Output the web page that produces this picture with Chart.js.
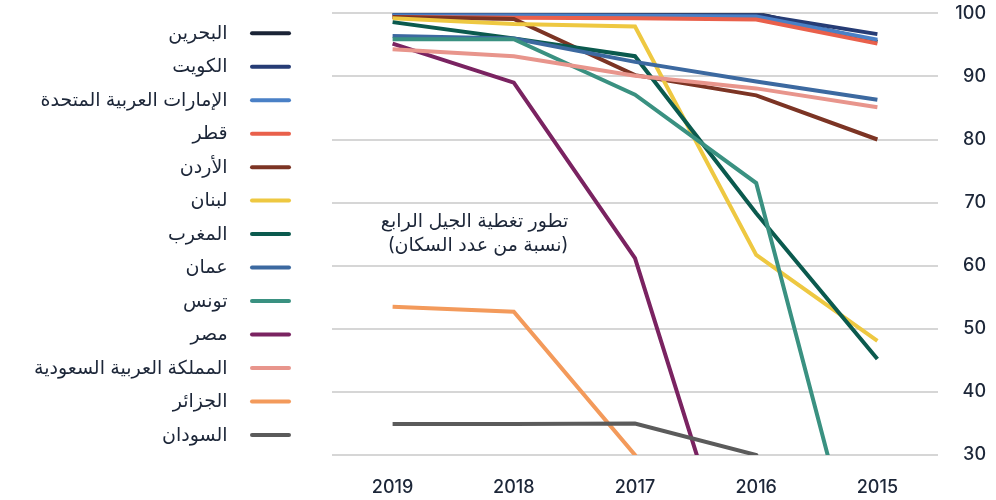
<!DOCTYPE html>
<html>
<head>
<meta charset="utf-8">
<script src="https://cdn.jsdelivr.net/npm/chart.js@4.4.1/dist/chart.umd.min.js"></script>
<style>
  html, body { margin: 0; padding: 0; background: #fff; }
  #wrap { width: 996px; height: 500px; }
</style>
</head>
<body>
<div id="wrap"><canvas id="chart_4g"></canvas></div>
<script>
// years run right-to-left in time, left-to-right on the axis
var years = ['2019', '2018', '2017', '2016', '2015'];

var countries = ['البحرين', 'الكويت', 'الإمارات العربية المتحدة', 'قطر', 'الأردن', 'لبنان',
  'المغرب', 'عمان', 'تونس', 'مصر', 'المملكة العربية السعودية', 'الجزائر', 'السودان'];

var bahrain = [100, 100, 100, 100, 95.5];
var kuwait  = [100, 100, 100, 99.8, 96.7];
var uae     = [99.7, 99.7, 99.6, 99.5, 95.8];
var qatar   = [99.4, 99.3, 99.2, 99.0, 95.2];
var jordan  = [99.4, 99.1, 90.2, 87.0, 80.0];
var lebanon = [99.2, 98.3, 97.9, 61.7, 48.1];
var morocco = [98.6, 96.0, 93.2, 68.3, 45.2];
var oman    = [96.4, 96.0, 92.3, 89.2, 86.3];
var tunisia = [95.9, 95.9, 87.1, 73.1, 0];
var egypt   = [95.2, 89.0, 61.2, 0, 0];
var saudi   = [94.3, 93.2, 90.1, 88.1, 85.1];
var algeria = [53.5, 52.7, 30.0, 0, 0];
var sudan   = [34.9, 34.9, 35.0, 30.0, 0];

var series = [bahrain, kuwait, uae, qatar, jordan, lebanon, morocco, oman, tunisia, egypt, saudi, algeria, sudan];
var colors = ['#1b2436', '#263c75', '#4a80c6', '#e9604b', '#7c3424', '#eec841', '#0b5a4e',
  '#3c69a0', '#3a9181', '#7a2361', '#e8958c', '#f39a5b', '#5b5b5b'];

var yTicks = [30, 40, 50, 60, 70, 80, 90, 100];
var titleLines = ['تطور تغطية الجيل الرابع', '(نسبة من عدد السكان)'];

var TEXT = '#1c2638';
var FONT = "Inter, 'Noto Sans', 'DejaVu Sans', sans-serif";

var datasets = [];
for (var i = 0; i < series.length; i++) {
  datasets.push({
    label: countries[i],
    data: series[i],
    xAxisID: 'x',
    yAxisID: 'y',
    borderColor: colors[i],
    backgroundColor: colors[i],
    borderWidth: 4,
    pointRadius: 0,
    tension: 0,
    fill: false,
    order: series.length - 1 - i   // later series drawn on top
  });
}

// title text sitting inside the plot
var innerTitle = {
  id: 'innerTitle',
  afterDatasetsDraw: function(chart) {
    var ctx = chart.ctx;
    var xs = chart.scales.x, ys = chart.scales.y;
    var right = (xs.getPixelForValue(1) + xs.getPixelForValue(2)) / 2 - 6;
    ctx.save();
    ctx.direction = 'rtl';
    ctx.textAlign = 'right';
    ctx.textBaseline = 'middle';
    ctx.fillStyle = TEXT;
    ctx.font = '19px ' + FONT;
    ctx.fillText(titleLines[0], right, ys.getPixelForValue(67.0));
    ctx.fillText(titleLines[1], right, ys.getPixelForValue(63.3));
    ctx.restore();
  }
};

var ctx = document.getElementById('chart_4g').getContext('2d');
var chart = new Chart(ctx, {
  type: 'line',
  data: { labels: years, datasets: datasets },
  plugins: [innerTitle],
  options: {
    responsive: true,
    maintainAspectRatio: false,
    animation: false,
    layout: { padding: { top: 0, right: 10, bottom: 0, left: 24 } },
    plugins: {
      tooltip: { enabled: false },
      legend: {
        position: 'left',
        align: 'start',
        maxWidth: 400,
        rtl: true,
        textDirection: 'rtl',
        title: { display: true, text: '', padding: 0, font: { size: 8, lineHeight: '9.3px' } },
        labels: {
          boxWidth: 41,
          boxHeight: 4,
          useBorderRadius: true,
          borderRadius: 2,
          padding: 14.47,
          color: TEXT,
          font: { family: FONT, size: 19 },
          generateLabels: function(chart) {
            return chart.data.datasets.map(function(ds, i) {
              return {
                text: '\u2002\u2009' + ds.label,
                fillStyle: ds.borderColor,
                strokeStyle: ds.borderColor,
                lineWidth: 0,
                fontColor: TEXT,
                hidden: false,
                borderRadius: 2,
                datasetIndex: i
              };
            });
          }
        }
      }
    },
    scales: {
      gap: {
        type: 'linear',
        axis: 'y',
        position: 'left',
        display: true,
        grid: { display: false, drawTicks: false },
        border: { display: false },
        ticks: { display: false },
        afterFit: function(s) { s.width = Math.max(0, 332 - 24 - s.chart.legend.width); }
      },
      x: {
        offset: true,
        grid: { display: false, drawTicks: false },
        border: { display: false },
        ticks: { color: TEXT, padding: 22, font: { family: FONT, size: 18, weight: '500' } },
        afterFit: function(s) { s.height = 45; }
      },
      y: {
        position: 'right',
        min: 30,
        max: 100,
        afterBuildTicks: function(s) { s.ticks = yTicks.map(function(v) { return { value: v }; }); },
        grid: { color: '#d6d6d6', lineWidth: 2, drawTicks: false },
        border: { display: false },
        ticks: { color: TEXT, crossAlign: 'far', padding: 0,
          font: { family: FONT, size: 18, weight: '500', lineHeight: '26.6px' } },
        afterFit: function(s) { s.width = 48; }
      }
    }
  }
});
</script>
</body>
</html>
